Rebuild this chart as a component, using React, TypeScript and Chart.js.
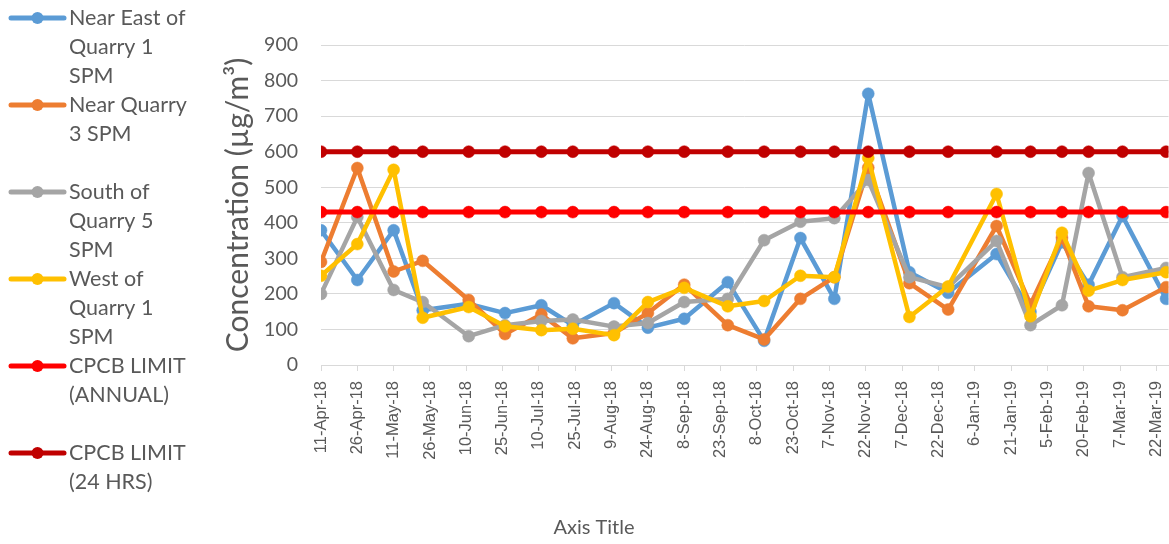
import React, { useEffect, useRef } from "react";
import { Chart, registerables } from "chart.js";

Chart.register(...registerables);

// ---------- data ----------
const sampleDates = [
  "2018-04-11", "2018-04-26", "2018-05-11", "2018-05-23", "2018-06-11", "2018-06-26",
  "2018-07-11", "2018-07-24", "2018-08-10", "2018-08-24", "2018-09-08", "2018-09-26",
  "2018-10-11", "2018-10-26", "2018-11-09", "2018-11-23", "2018-12-10", "2018-12-26",
  "2019-01-15", "2019-01-29", "2019-02-11", "2019-02-22", "2019-03-08", "2019-03-26",
];

const nearEastQ1 = [379, 239, 379, 154, 172, 146, 168, 112, 174, 105, 130, 233, 68, 357, 186, 763, 261, 203, 312, 150, 345, 226, 419, 186];
const nearQ3 = [290, 554, 263, 293, 183, 87, 142, 75, 90, 146, 226, 112, 72, 186, 247, 555, 230, 156, 391, 170, 358, 165, 154, 219];
const southQ5 = [200, 416, 211, 177, 81, 112, 124, 128, 108, 118, 177, 186, 351, 403, 413, 520, 247, 219, 349, 112, 168, 540, 247, 273];
const westQ1 = [251, 340, 549, 133, 163, 109, 98, 102, 84, 177, 217, 165, 180, 251, 247, 582, 135, 221, 481, 137, 372, 209, 239, 261];
const cpcbAnnual = [430, 430, 430, 430, 430, 430, 430, 430, 430, 430, 430, 430, 430, 430, 430, 430, 430, 430, 430, 430, 430, 430, 430, 430];
const cpcb24h = [600, 600, 600, 600, 600, 600, 600, 600, 600, 600, 600, 600, 600, 600, 600, 600, 600, 600, 600, 600, 600, 600, 600, 600];

const legendLines = [
  ["Near East of", "Quarry 1", "SPM"],
  ["Near Quarry", "3 SPM"],
  ["South of", "Quarry 5", "SPM"],
  ["West of", "Quarry 1", "SPM"],
  ["CPCB LIMIT", "(ANNUAL)"],
  ["CPCB LIMIT", "(24 HRS)"],
];
const seriesColors = ["#5B9BD5", "#ED7D31", "#A5A5A5", "#FFC000", "#FF0000", "#C00000"];

const axisStartDate = "2018-04-11";
const axisSpanDays = 350;
const tickStepDays = 15;
const monthNames = ["Jan", "Feb", "Mar", "Apr", "May", "Jun", "Jul", "Aug", "Sep", "Oct", "Nov", "Dec"];
const yTitle = "Concentration (µg/m³)";
const xTitle = "Axis Title";

// ---------- helpers ----------
const FONT = "Lato, 'Open Sans', sans-serif";
const TICK_FONT = "'Liberation Sans', Arial, sans-serif";
const TEXT = "#595959";

function toUTC(s: string) {
  const [y, m, d] = s.split("-").map(Number);
  return Date.UTC(y, m - 1, d);
}
const startMs = toUTC(axisStartDate);
function dayOf(s: string) {
  return Math.round((toUTC(s) - startMs) / 86400000);
}
function fmtDay(day: number) {
  const t = new Date(startMs + day * 86400000);
  return `${t.getUTCDate()}-${monthNames[t.getUTCMonth()]}-${String(t.getUTCFullYear()).slice(2)}`;
}

const legendPlugin = {
  id: "sideLegend",
  afterDraw(chart: any) {
    const ctx = chart.ctx;
    ctx.save();
    chart.data.datasets.forEach((ds: any, i: number) => {
      const y0 = 18 + i * 87;
      ctx.strokeStyle = ds.borderColor;
      ctx.lineWidth = 5;
      ctx.lineCap = "round";
      ctx.beginPath();
      ctx.moveTo(11, y0);
      ctx.lineTo(64, y0);
      ctx.stroke();
      ctx.fillStyle = ds.borderColor;
      ctx.beginPath();
      ctx.arc(37.5, y0, 6, 0, Math.PI * 2);
      ctx.fill();
      ctx.fillStyle = TEXT;
      ctx.font = `21.5px ${FONT}`;
      ctx.textBaseline = "middle";
      ctx.textAlign = "left";
      legendLines[i].forEach((line, j) => {
        ctx.fillText(line, 69, y0 + j * 28.8);
      });
    });
    // x axis title
    ctx.fillStyle = TEXT;
    ctx.font = `20px ${FONT}`;
    ctx.textAlign = "center";
    ctx.textBaseline = "middle";
    ctx.fillText(xTitle, 594, 528);
    ctx.restore();
  },
};

export default function App() {
  const ref = useRef<HTMLCanvasElement | null>(null);

  useEffect(() => {
    if (!ref.current) return;
    const xs = sampleDates.map(dayOf);
    const series = [nearEastQ1, nearQ3, southQ5, westQ1, cpcbAnnual, cpcb24h];
    const tickDays: number[] = [];
    for (let d = 0; d <= axisSpanDays; d += tickStepDays) tickDays.push(d);

    const datasets = series.map((vals, i) => ({
      label: legendLines[i].join(" "),
      data: vals.map((v, k) => ({ x: xs[k], y: v })),
      borderColor: seriesColors[i],
      backgroundColor: seriesColors[i],
      pointBackgroundColor: seriesColors[i],
      pointBorderColor: seriesColors[i],
      pointRadius: 6,
      pointBorderWidth: 0.5,
      borderWidth: i >= 4 ? 5 : 4.5,
      borderJoinStyle: "round",
      borderCapStyle: "round",
      tension: 0,
      fill: false,
      order: series.length - i,
    }));

    const chart = new Chart(ref.current, {
      type: "line",
      data: { datasets },
      options: {
        animation: false,
        responsive: false,
        maintainAspectRatio: false,
        layout: { padding: { left: 220, top: 45, right: 0, bottom: 4 } },
        plugins: { legend: { display: false }, tooltip: { enabled: false } },
        scales: {
          x: {
            type: "linear",
            min: 0,
            max: axisSpanDays,
            afterBuildTicks: (s: any) => {
              s.ticks = tickDays.map((v) => ({ value: v }));
            },
            afterFit: (s: any) => {
              s.height = 175;
              s.paddingLeft = 0;
              s.paddingRight = 0;
            },
            ticks: {
              autoSkip: false,
              minRotation: 90,
              maxRotation: 90,
              padding: 10,
              color: TEXT,
              font: { family: TICK_FONT, size: 16.5 },
              callback: (v: any) => fmtDay(Number(v)),
            },
            grid: { drawOnChartArea: false, drawTicks: true, tickLength: 6, color: "#D9D9D9", lineWidth: 1 },
            border: { color: "#D9D9D9", width: 1 },
            title: { display: false, text: xTitle },
          },
          y: {
            min: 0,
            max: 900,
            afterFit: (s: any) => {
              s.width = 101;
              s.paddingTop = 0;
              s.paddingBottom = 0;
            },
            ticks: { stepSize: 100, padding: 23, color: TEXT, font: { family: FONT, size: 19.5 } },
            grid: { color: "#D9D9D9", lineWidth: 1, drawTicks: false },
            border: { display: false },
            title: { display: true, text: yTitle, color: TEXT, font: { family: FONT, size: 30 }, padding: { top: 0, bottom: 0 } },
          },
        },
      },
      plugins: [legendPlugin],
    } as any);
    return () => chart.destroy();
  }, []);

  return (
    <div style={{ position: "fixed", left: 0, top: 0, width: 1169, height: 544, overflow: "hidden", background: "#fff" }}>
      <canvas ref={ref} width={1175} height={544} style={{ display: "block" }} />
    </div>
  );
}
